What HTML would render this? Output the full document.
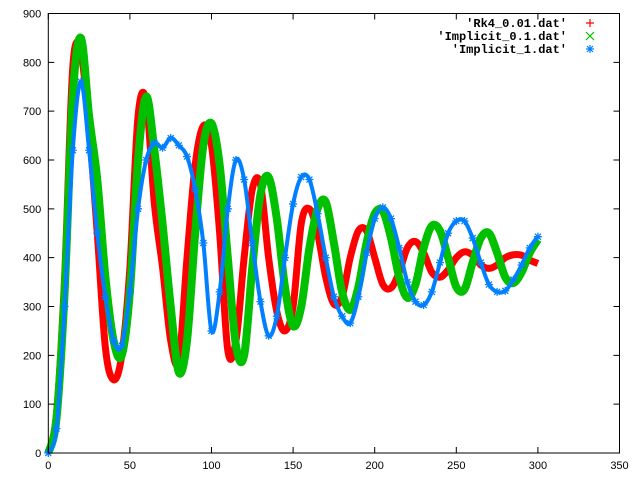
<!DOCTYPE html>
<html><head><meta charset="utf-8"><style>
body{margin:0;background:#fff}
svg{display:block}
text{font-family:"Liberation Sans",sans-serif;font-size:11px;fill:#000}
.leg{font-family:"Liberation Mono",monospace;font-size:12px;font-weight:bold}
</style></head><body>
<svg id="chart" width="640" height="480" viewBox="0 0 640 480" xmlns="http://www.w3.org/2000/svg">
<rect width="640" height="480" fill="#fff"/>
<g id="series"></g>
<g id="axes"></g>
</svg>
<script>
const times = [];
for (let i = 0; i <= 60; i++) times.push(i * 5);
const rk4Values = [0,80,360,790,820,665,450,215,150,200,380,690,720,510,380,230,190,400,590,670,630,450,210,230,400,540,550,400,290,250,300,470,500,450,360,305,320,400,455,455,400,345,338,370,420,433,410,370,360,375,400,412,405,385,378,385,400,406,405,395,388];
const implicit01Values = [0,70,330,730,850,690,560,360,230,200,330,600,730,620,470,300,165,230,450,630,675,590,400,220,200,380,530,565,480,340,260,300,420,500,514,430,330,293,340,430,490,495,440,360,318,345,420,465,455,400,340,335,390,440,450,410,360,348,370,410,437];
const implicit1Values = [0,50,300,620,760,620,450,320,230,220,330,500,600,635,625,645,630,607,540,430,250,330,500,600,560,430,310,240,280,400,510,565,560,490,400,320,280,266,320,410,480,503,480,420,350,310,303,330,390,450,475,475,440,390,345,330,332,355,385,420,443];
const xTicks = [0,50,100,150,200,250,300,350];
const yTicks = [0,100,200,300,400,500,600,700,800,900];
const legendLabels = ["'Rk4_0.01.dat'","'Implicit_0.1.dat'","'Implicit_1.dat'"];

const L=48.3,R=619.5,T=13.5,B=453;
const xs=v=>L+(v-0)/(350-0)*(R-L);
const ys=v=>B-(v-0)/(900-0)*(B-T);
const NS="http://www.w3.org/2000/svg";
function mk(tag,parent){const e=document.createElementNS(NS,tag);parent.appendChild(e);return e;}
function smoothPath(xv,yv){
  const p=xv.map((x,i)=>[xs(x),ys(yv[i])]);
  let d="M"+p[0][0]+","+p[0][1];
  for(let i=0;i<p.length-1;i++){
    const p0=p[Math.max(0,i-1)],p1=p[i],p2=p[i+1],p3=p[Math.min(p.length-1,i+2)];
    const c1=[p1[0]+(p2[0]-p0[0])/6,p1[1]+(p2[1]-p0[1])/6];
    const c2=[p2[0]-(p3[0]-p1[0])/6,p2[1]-(p3[1]-p1[1])/6];
    d+=" C"+c1[0]+","+c1[1]+" "+c2[0]+","+c2[1]+" "+p2[0]+","+p2[1];
  }
  return d;
}
const sg=document.getElementById("series");
const ag=document.getElementById("axes");

const red=mk("path",sg);


red.setAttribute("d",smoothPath(times,rk4Values));
red.setAttribute("fill","none");red.setAttribute("stroke","#ff0000");red.setAttribute("stroke-width","7");

const green=mk("path",sg);


green.setAttribute("d",smoothPath(times,implicit01Values));
green.setAttribute("fill","none");green.setAttribute("stroke","#00c000");green.setAttribute("stroke-width","8");

const blue=mk("path",sg);


blue.setAttribute("d",smoothPath(times,implicit1Values));
blue.setAttribute("fill","none");blue.setAttribute("stroke","#0080ff");blue.setAttribute("stroke-width","4");
function star(parent,cx,cy,col){
  const s=mk("path",parent);
  
  
  s.setAttribute("d",`M${cx-4},${cy}h8M${cx},${cy-4}v8M${cx-3},${cy-3}l6,6M${cx-3},${cy+3}l6,-6`);
  s.setAttribute("stroke",col);s.setAttribute("stroke-width","1.3");
}
times.forEach((t,i)=>star(sg,xs(t),ys(implicit1Values[i]),"#0080ff"));

const frame=mk("rect",ag);


frame.setAttribute("x",L);frame.setAttribute("y",T);frame.setAttribute("width",R-L);frame.setAttribute("height",B-T);
frame.setAttribute("fill","none");frame.setAttribute("stroke","#000");frame.setAttribute("stroke-width","1");
xTicks.forEach(v=>{
  const x=xs(v);
  const t=mk("path",ag);
  
  
  t.setAttribute("d",`M${x},${B}v-6M${x},${T}v6`);t.setAttribute("stroke","#000");
  const lb=mk("text",ag);
  
  
  lb.setAttribute("x",x);lb.setAttribute("y",B+16);lb.setAttribute("text-anchor","middle");lb.textContent=v;
});
yTicks.forEach(v=>{
  const y=ys(v);
  const t=mk("path",ag);
  
  
  t.setAttribute("d",`M${L},${y}h6M${R},${y}h-6`);t.setAttribute("stroke","#000");
  const lb=mk("text",ag);
  
  
  lb.setAttribute("x",L-7);lb.setAttribute("y",y+4);lb.setAttribute("text-anchor","end");lb.textContent=v;
});
const legCols=["#ff0000","#00c000","#0080ff"];
legendLabels.forEach((s,i)=>{
  const y=23+i*13;
  const lb=mk("text",ag);
  
  
  lb.setAttribute("class","leg");lb.setAttribute("x",567);lb.setAttribute("y",y+4);lb.setAttribute("text-anchor","end");lb.textContent=s;
  const m=mk("path",ag);
  
  
  const cx=590;
  let d=i===0?`M${cx-4},${y}h8M${cx},${y-4}v8`:i===1?`M${cx-4},${y-4}l8,8M${cx-4},${y+4}l8,-8`:`M${cx-4},${y}h8M${cx},${y-4}v8M${cx-3},${y-3}l6,6M${cx-3},${y+3}l6,-6`;
  m.setAttribute("d",d);m.setAttribute("stroke",legCols[i]);m.setAttribute("stroke-width","1.2");
});
</script>
</body></html>
